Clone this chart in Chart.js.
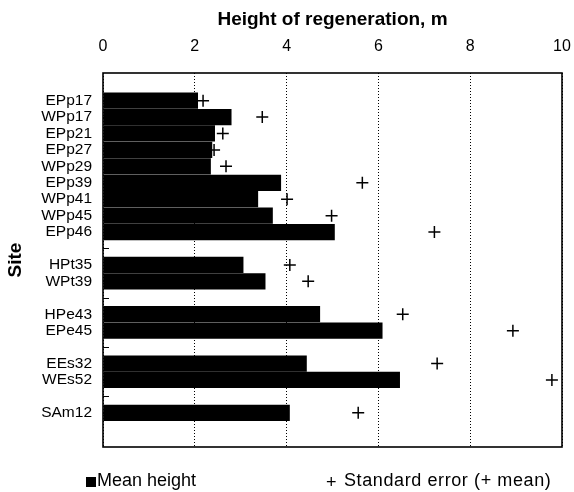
<!DOCTYPE html>
<html>
<head>
<meta charset="utf-8">
<script src="https://cdn.jsdelivr.net/npm/chart.js@4/dist/chart.umd.min.js"></script>
<style>
  body { margin: 0; background: #fff; }
  #wrap { position: relative; width: 574px; height: 492px; font-family: "Liberation Sans", Arial, sans-serif; }
  #legend span { position: absolute; font-size: 18px; color: #000; line-height: 18px; white-space: nowrap; }
  #legend .box { width: 10px; height: 10px; background: #000; }
</style>
</head>
<body>
<div id="wrap">
  <canvas id="siteChart" width="574" height="492"></canvas>
  <div id="legend">
    <span class="box" style="left:86px; top:477px;"></span>
    <span style="left:97px; top:471px;">Mean height</span>
    <span style="left:326px; top:473px;">+</span>
    <span style="left:344px; top:471px; letter-spacing:0.6px;">Standard error (+ mean)</span>
  </div>
</div>
<script>
// '' = empty row between site groups
var sites = ['EPp17','WPp17','EPp21','EPp27','WPp29','EPp39','WPp41','WPp45','EPp46','',
             'HPt35','WPt39','','HPe43','EPe45','','EEs32','WEs52','','SAm12'];
var meanHeight = [2.07, 2.80, 2.44, 2.38, 2.35, 3.88, 3.38, 3.70, 5.05, null,
                  3.06, 3.54, null, 4.73, 6.09, null, 4.44, 6.47, null, 4.07];
var seUpper = [2.18, 3.47, 2.61, 2.42, 2.68, 5.65, 4.01, 4.98, 7.22, null,
               4.07, 4.47, null, 6.53, 8.93, null, 7.28, 9.78, null, 5.56];
var xTicks = [0, 2, 4, 6, 8, 10];

var barPoints = [];
var sePoints = [];
for (var i = 0; i < sites.length; i++) {
    if (meanHeight[i] !== null) barPoints.push({x: meanHeight[i], y: i});
    if (seUpper[i] !== null) sePoints.push({x: seUpper[i], y: i});
}

var fontFam = '"Liberation Sans", Arial, sans-serif';

// box round the plot plus the small inward ticks on the site axis
var framePlugin = {
    id: 'frame',
    beforeDatasetsDraw: function(chart) {
        var c = chart.ctx, a = chart.chartArea, ys = chart.scales.y;
        c.save();
        c.strokeStyle = '#000';
        c.lineWidth = 1;
        for (var i = 0; i < sites.length; i++) {
            var py = Math.round(ys.getPixelForValue(i)) + 0.5;
            c.beginPath();
            c.moveTo(a.left, py);
            c.lineTo(a.left + 6, py);
            c.stroke();
        }
        c.restore();
    },
    afterDraw: function(chart) {
        var c = chart.ctx, a = chart.chartArea;
        c.save();
        c.strokeStyle = '#000';
        c.lineWidth = 1.6;
        c.strokeRect(a.left, a.top, a.right - a.left, a.bottom - a.top);
        c.restore();
    }
};

var ctx = document.getElementById('siteChart');
new Chart(ctx, {
    type: 'bar',
    data: {
        datasets: [
            {
                type: 'bar',
                label: 'Mean height',
                data: barPoints,
                backgroundColor: '#000',
                borderWidth: 0,
                barPercentage: 0.99,
                categoryPercentage: 1,
                order: 2
            },
            {
                type: 'scatter',
                label: 'Standard error (+ mean)',
                data: sePoints,
                pointStyle: 'cross',
                pointRadius: 6,
                borderColor: '#000',
                backgroundColor: '#000',
                borderWidth: 1.5,
                order: 1
            }
        ]
    },
    options: {
        indexAxis: 'y',
        responsive: false,
        animation: false,
        layout: { autoPadding: false, padding: { left: 0, right: 12, top: 0, bottom: 45 } },
        plugins: { legend: { display: false }, tooltip: { enabled: false } },
        scales: {
            x: {
                type: 'linear',
                position: 'top',
                min: 0,
                max: 10,
                afterFit: function(s) { s.height = 73; s.paddingLeft = 0; s.paddingRight = 0; },
                afterBuildTicks: function(s) { s.ticks = xTicks.map(function(v){ return {value: v}; }); },
                ticks: { color: '#000', padding: 17, font: { family: fontFam, size: 16 } },
                grid: { color: '#000', lineWidth: 1, drawTicks: false },
                border: { display: false, dash: [1, 2] },
                title: {
                    display: true,
                    text: 'Height of regeneration, m',
                    color: '#000',
                    font: { family: fontFam, size: 19, weight: 'bold' },
                    padding: { top: 8, bottom: 0 }
                }
            },
            y: {
                type: 'linear',
                position: 'left',
                reverse: true,
                min: -0.97,
                max: 20.37,
                afterFit: function(s) { s.width = 103; s.paddingTop = 0; s.paddingBottom = 0; },
                afterBuildTicks: function(s) {
                    var t = [];
                    for (var i = 0; i < sites.length; i++) if (sites[i]) t.push({value: i});
                    s.ticks = t;
                },
                ticks: {
                    color: '#000',
                    padding: 3,
                    font: { family: fontFam, size: 15.5 },
                    callback: function(v) { return sites[v]; }
                },
                grid: { display: false },
                border: { display: false },
                title: {
                    display: true,
                    text: 'Site',
                    color: '#000',
                    font: { family: fontFam, size: 19, weight: 'bold' },
                    padding: { top: 4, bottom: 0 }
                }
            }
        }
    },
    plugins: [framePlugin]
});
</script>
</body>
</html>
